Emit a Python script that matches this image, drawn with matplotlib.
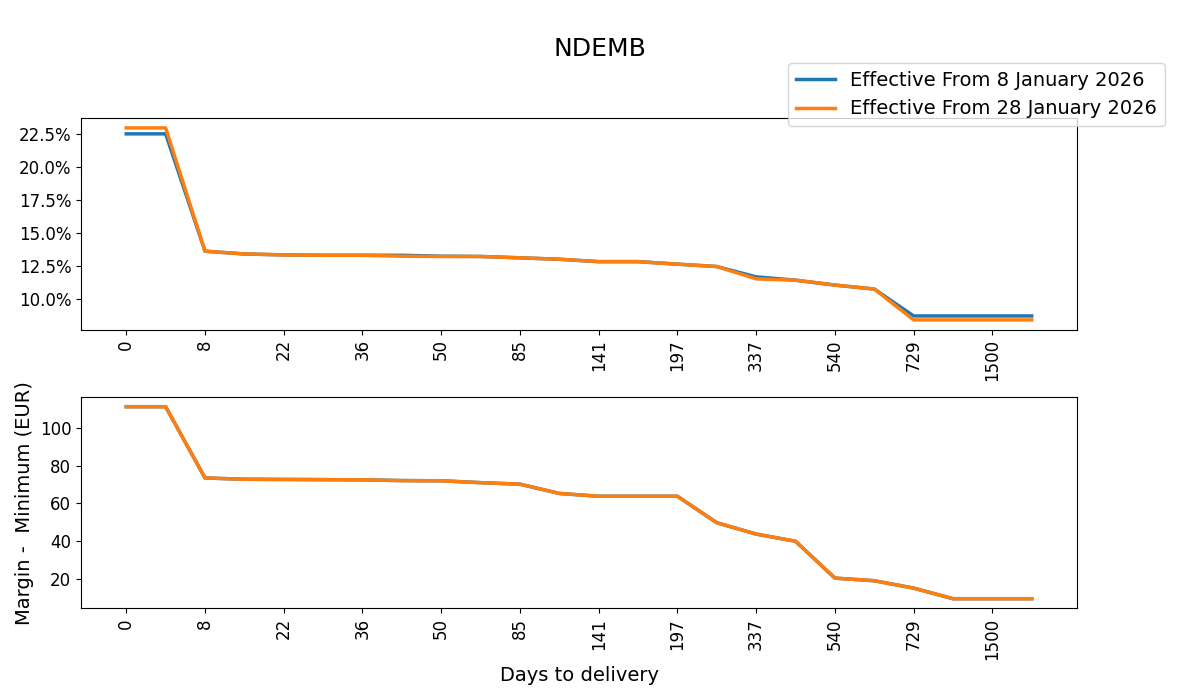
import matplotlib
matplotlib.use("Agg")
import matplotlib.pyplot as plt
from matplotlib.ticker import PercentFormatter, MultipleLocator

# days to delivery (only every other label is shown on the axis)
days = ["0", "1", "8", "15", "22", "29", "36", "43", "50", "64", "85", "113",
        "141", "169", "197", "267", "337", "438", "540", "634", "729", "1114",
        "1500", "2000"]

labels = ["Effective From 8 January 2026", "Effective From 28 January 2026"]

# margin in percent
pct_old = [22.5, 22.5, 13.64, 13.43, 13.36, 13.33, 13.33, 13.33, 13.26, 13.24,
           13.14, 13.03, 12.85, 12.85, 12.66, 12.48, 11.70, 11.45, 11.08, 10.78,
           8.75, 8.75, 8.75, 8.75]
pct_new = [22.95, 22.95, 13.64, 13.43, 13.36, 13.33, 13.33, 13.26, 13.24, 13.24,
           13.14, 13.03, 12.85, 12.85, 12.66, 12.48, 11.55, 11.45, 11.08, 10.78,
           8.45, 8.45, 8.45, 8.45]

# minimum margin in EUR
eur_old = [111.2, 111.2, 73.5, 72.8, 72.7, 72.6, 72.5, 72.1, 72.0, 71.0,
           70.2, 65.3, 63.8, 63.8, 63.8, 49.8, 43.8, 40.0, 20.5, 19.1,
           15.2, 9.6, 9.6, 9.6]
eur_new = list(eur_old)

fig, (ax1, ax2) = plt.subplots(2, 1, figsize=(12, 7), dpi=100)
fig.subplots_adjust(left=0.0675, right=0.8975, top=0.831, bottom=0.131, hspace=0.32)

ax1.plot(days, pct_old, lw=2.5, label=labels[0])
ax1.plot(days, pct_new, lw=2.5, label=labels[1])
ax1.yaxis.set_major_locator(MultipleLocator(2.5))
ax1.yaxis.set_major_formatter(PercentFormatter(decimals=1))

ax2.plot(days, eur_old, lw=2.5)
ax2.plot(days, eur_new, lw=2.5)
ax2.set_ylabel("Margin -  Minimum (EUR)", fontsize=14)
ax2.set_xlabel("Days to delivery", fontsize=14)

for ax in (ax1, ax2):
    ax.set_xticks(range(0, len(days), 2))
    ax.set_xticklabels(days[::2], rotation=90)
    ax.tick_params(labelsize=12)

fig.suptitle("NDEMB", fontsize=18, y=0.947)
fig.legend(loc="upper right", bbox_to_anchor=(0.979, 0.924), fontsize=14)

fig.savefig("out.png")
